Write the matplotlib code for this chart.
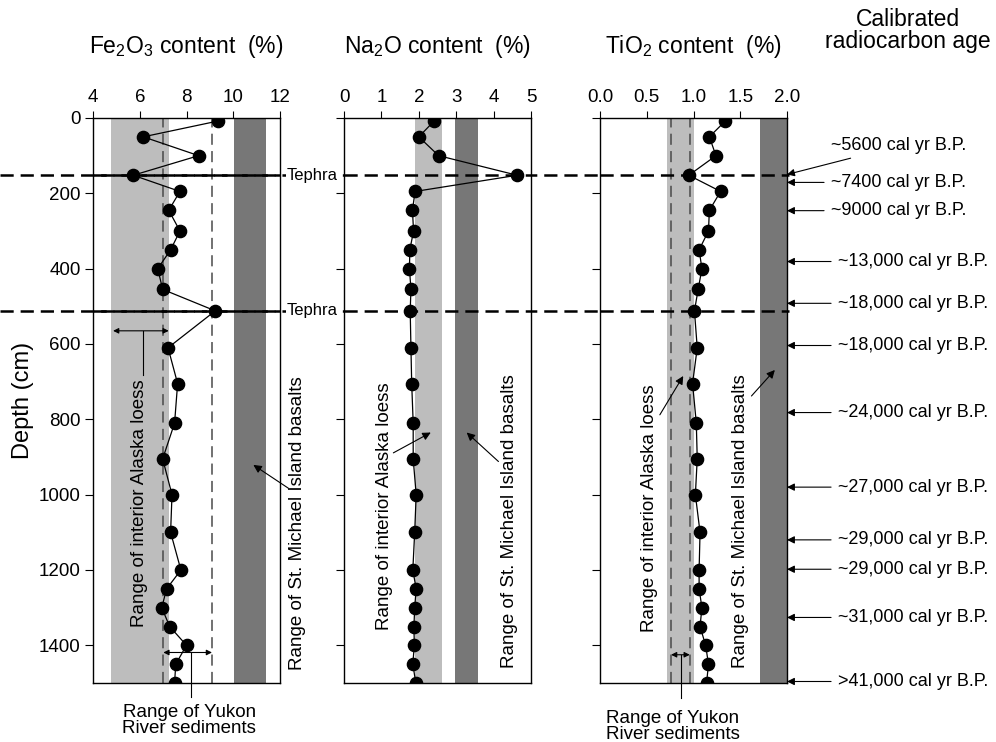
import matplotlib
matplotlib.use('Agg')
import matplotlib.pyplot as plt
from matplotlib import transforms
from matplotlib.lines import Line2D

plt.rcParams['font.family'] = 'Liberation Sans'
plt.rcParams['mathtext.default'] = 'regular'
plt.rcParams['lines.scale_dashes'] = False

# sample depths (cm) and oxide contents (%)
depth = [8, 50, 100, 152, 195, 245, 300, 350, 400, 455, 512, 610, 705,
         810, 905, 1000, 1100, 1200, 1250, 1300, 1350, 1400, 1450, 1500]
fe2o3 = [9.35, 6.15, 8.52, 5.72, 7.72, 7.24, 7.72, 7.32, 6.77, 6.98, 9.23, 7.21,
         7.62, 7.49, 6.98, 7.38, 7.32, 7.76, 7.15, 6.94, 7.28, 8.00, 7.54, 7.49]
na2o = [2.41, 2.00, 2.53, 4.63, 1.90, 1.83, 1.86, 1.76, 1.75, 1.79, 1.77, 1.79,
        1.81, 1.85, 1.85, 1.93, 1.89, 1.84, 1.93, 1.89, 1.87, 1.88, 1.84, 1.92]
tio2 = [1.34, 1.17, 1.24, 0.95, 1.29, 1.17, 1.16, 1.06, 1.09, 1.05, 1.01, 1.04,
        0.99, 1.03, 1.04, 1.02, 1.07, 1.06, 1.06, 1.09, 1.07, 1.13, 1.16, 1.14]

titles = ['Fe$_2$O$_3$ content  (%)', 'Na$_2$O content  (%)', 'TiO$_2$ content  (%)']
xlims = [(4, 12), (0, 5), (0, 2)]
xticks = [[4, 6, 8, 10, 12], [0, 1, 2, 3, 4, 5], [0.0, 0.5, 1.0, 1.5, 2.0]]
xticklabels = [['4', '6', '8', '10', '12'], ['0', '1', '2', '3', '4', '5'],
               ['0.0', '0.5', '1.0', '1.5', '2.0']]
depth_ticks = [0, 200, 400, 600, 800, 1000, 1200, 1400]

# reference ranges
loess_range = [(4.77, 7.24), (1.90, 2.62), (0.72, 1.00)]
basalt_range = [(10.05, 11.39), (2.97, 3.58), (1.71, 2.00)]
yukon_fe = (7.01, 9.09)
yukon_ti = (0.76, 0.96)
tephra_depth = [152, 512]

# calibrated ages: label, depth of text, depth pointed at
age_labels = ['~5600 cal yr B.P.', '~7400 cal yr B.P.', '~9000 cal yr B.P.',
              '~13,000 cal yr B.P.', '~18,000 cal yr B.P.', '~18,000 cal yr B.P.',
              '~24,000 cal yr B.P.', '~27,000 cal yr B.P.', '~29,000 cal yr B.P.',
              '~29,000 cal yr B.P.', '~31,000 cal yr B.P.', '>41,000 cal yr B.P.']
age_text_depth = [74, 171, 246, 381, 492, 604, 782, 980, 1120, 1198, 1326, 1496]
age_point_depth = [150, 171, 246, 381, 492, 604, 782, 980, 1120, 1198, 1326, 1496]

LIGHT = '#bdbdbd'
DARK = '#777777'
W, H = 996, 742

fig = plt.figure(figsize=(W / 100, H / 100), dpi=100)
lefts = [93, 344, 600]
axes = []
for i, lp in enumerate(lefts):
    ax = fig.add_axes([lp / W, 1 - 683 / H, 187 / W, 565 / H])
    axes.append(ax)
    ax.set_xlim(*xlims[i])
    ax.set_ylim(1500, 0)
    ax.xaxis.tick_top()
    ax.set_xticks(xticks[i])
    ax.set_xticklabels(xticklabels[i])
    ax.set_yticks(depth_ticks)
    if i > 0:
        ax.set_yticklabels([])
    ax.tick_params(axis='x', direction='out', length=5, width=0.8, pad=4, labelsize=13.5)
    ax.tick_params(axis='y', direction='out', length=6, width=0.8, pad=3, labelsize=13.5)
    for s in ax.spines.values():
        s.set_linewidth(1.0)
    ax.axvspan(*loess_range[i], color=LIGHT, lw=0, zorder=0.5)
    ax.axvspan(*basalt_range[i], color=DARK, lw=0, zorder=0.5)
    for td in tephra_depth:
        ax.axhline(td, color='k', lw=1.8, ls=(0, (9.5, 5)), zorder=2)
    ax.text(0.5, (683 - 53) / 565, titles[i], transform=ax.transAxes,
            ha='center', va='baseline', fontsize=16.5)

ax1, ax2, ax3 = axes
for ax, vals in zip(axes, [fe2o3, na2o, tio2]):
    ax.plot(vals, depth, color='k', lw=0.9, marker='o', ms=8.8,
            mfc='k', mec='k', zorder=3)

# Yukon river ranges
for ax, (a, b) in [(ax1, yukon_fe), (ax3, yukon_ti)]:
    for x in (a, b):
        ax.axvline(x, color='#4a4a4a', lw=1.1, ls=(0, (8, 4.5)), zorder=1)

# tephra lines running across the whole figure
blend = transforms.blended_transform_factory(fig.transFigure, ax1.transData)
for td in tephra_depth:
    ln = Line2D([0, 789 / W], [td, td], transform=blend, color='k', lw=1.8,
                ls=(0, (9.5, 5)), zorder=2, clip_on=False)
    ax1.add_artist(ln)
    ax1.text(287 / W, td, 'Tephra', transform=blend, fontsize=12,
             ha='left', va='center', zorder=4, clip_on=False,
             bbox=dict(facecolor='white', edgecolor='none', pad=0.5))

ann_fs = 13.5
arrow_kw = dict(arrowstyle='-|>', color='k', lw=0.8, mutation_scale=12,
                shrinkA=0, shrinkB=0)
dbl_kw = dict(arrowstyle='<|-|>', color='k', lw=0.8, mutation_scale=8,
              shrinkA=0, shrinkB=0)

# panel 1 notes
ax1.text(5.99, 1022, 'Range of interior Alaska loess', rotation=90,
         ha='center', va='center', fontsize=ann_fs, clip_on=False)
ax1.annotate('', xy=(4.86, 565), xytext=(7.24, 565), arrowprops=dbl_kw)
ax1.plot([6.13, 6.13], [565, 683], color='k', lw=0.8)
ax1.text(12.75, 1075, 'Range of St. Michael Island basalts', rotation=90,
         ha='center', va='center', fontsize=ann_fs, clip_on=False)
ax1.annotate('', xy=(10.86, 921), xytext=(12.36, 983), arrowprops=arrow_kw,
             annotation_clip=False)
ax1.annotate('', xy=(yukon_fe[0], 1419), xytext=(yukon_fe[1], 1419),
             arrowprops=dbl_kw, annotation_clip=False)
ax1.plot([8.18, 8.18], [1419, 1536], color='k', lw=0.8, clip_on=False)
ax1.text(8.11, 1600, 'Range of Yukon\nRiver sediments', ha='center',
         va='center', fontsize=ann_fs, linespacing=0.95, clip_on=False)

# panel 2 notes
ax2.text(1.08, 1030, 'Range of interior Alaska loess', rotation=90,
         ha='center', va='center', fontsize=ann_fs, clip_on=False)
ax2.annotate('', xy=(2.32, 835), xytext=(1.32, 889), arrowprops=arrow_kw)
ax2.text(4.42, 1070, 'Range of St. Michael Island basalts', rotation=90,
         ha='center', va='center', fontsize=ann_fs, clip_on=False)
ax2.annotate('', xy=(3.28, 835), xytext=(4.13, 912), arrowprops=arrow_kw)

# panel 3 notes
ax3.text(0.53, 1035, 'Range of interior Alaska loess', rotation=90,
         ha='center', va='center', fontsize=ann_fs, clip_on=False)
ax3.annotate('', xy=(0.89, 685), xytext=(0.64, 788), arrowprops=arrow_kw)
ax3.text(1.50, 1070, 'Range of St. Michael Island basalts', rotation=90,
         ha='center', va='center', fontsize=ann_fs, clip_on=False)
ax3.annotate('', xy=(1.87, 669), xytext=(1.62, 738), arrowprops=arrow_kw)
ax3.annotate('', xy=(yukon_ti[0], 1425), xytext=(yukon_ti[1], 1425),
             arrowprops=dbl_kw, annotation_clip=False)
ax3.plot([0.87, 0.87], [1425, 1540], color='k', lw=0.8, clip_on=False)
ax3.text(0.78, 1615, 'Range of Yukon\nRiver sediments', ha='center',
         va='center', fontsize=ann_fs, linespacing=0.95, clip_on=False)

# calibrated ages on the right
blend3 = transforms.blended_transform_factory(fig.transFigure, ax3.transData)
for lab, td, pd in zip(age_labels, age_text_depth, age_point_depth):
    tx = (838 if ',' in lab else 831) / W
    ax3.annotate(lab, xy=(2.0, pd), xycoords='data', xytext=(tx, td),
                 textcoords=blend3, ha='left', va='center', fontsize=13,
                 annotation_clip=False,
                 arrowprops=dict(arrowstyle='-|>', color='k', lw=0.8,
                                 mutation_scale=11, shrinkA=3, shrinkB=0))
fig.text(908 / W, 1 - 48 / H, 'Calibrated\nradiocarbon age', ha='center',
         va='baseline', fontsize=16.5, linespacing=0.95)

fig.text(23 / W, 1 - 400 / H, 'Depth (cm)', rotation=90, ha='center',
         va='center', fontsize=17)

fig.savefig('out.png', dpi=100)
